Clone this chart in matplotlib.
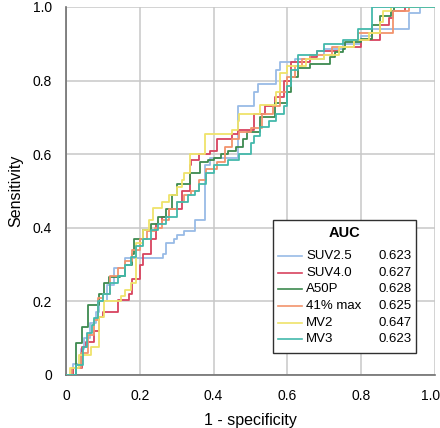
import matplotlib
matplotlib.use("Agg")
import matplotlib.pyplot as plt
from matplotlib.patches import Rectangle
from matplotlib.lines import Line2D
import matplotlib.transforms as mtransforms

plt.rcParams['font.family'] = ['Liberation Sans', 'DejaVu Sans']

names = ["SUV2.5", "SUV4.0", "A50P", "41% max", "MV2", "MV3"]
aucs = ["0.623", "0.627", "0.628", "0.625", "0.647", "0.623"]
colors = ["#98bbe6", "#d8435f", "#3d8a4f", "#f2936c", "#efe36a", "#43b9ab"]

suv25_fpr = [0, 0.02, 0.04, 0.05, 0.065, 0.08, 0.09, 0.11, 0.131, 0.16, 0.262, 0.27, 0.293, 0.30, 0.32, 0.35, 0.377, 0.39, 0.465, 0.51, 0.52, 0.57, 0.58, 0.62, 0.70, 0.75, 0.80, 0.83, 0.93, 0.96, 1.0]
suv25_tpr = [0, 0.03, 0.07, 0.10, 0.14, 0.17, 0.20, 0.245, 0.29, 0.318, 0.33, 0.36, 0.37, 0.38, 0.39, 0.42, 0.57, 0.59, 0.73, 0.77, 0.79, 0.83, 0.85, 0.86, 0.885, 0.90, 0.92, 0.94, 0.985, 1.0, 1.0]

suv40_fpr = [0, 0.02, 0.043, 0.054, 0.075, 0.09, 0.10, 0.14, 0.17, 0.18, 0.20, 0.21, 0.23, 0.245, 0.26, 0.28, 0.315, 0.336, 0.34, 0.36, 0.39, 0.41, 0.45, 0.466, 0.51, 0.54, 0.566, 0.59, 0.61, 0.66, 0.68, 0.74, 0.80, 0.85, 0.875, 0.885, 0.92, 1.0]
suv40_tpr = [0, 0.02, 0.076, 0.09, 0.12, 0.158, 0.17, 0.205, 0.22, 0.26, 0.30, 0.33, 0.37, 0.41, 0.43, 0.45, 0.50, 0.57, 0.585, 0.60, 0.61, 0.64, 0.655, 0.665, 0.71, 0.73, 0.755, 0.80, 0.85, 0.865, 0.88, 0.89, 0.91, 0.95, 0.97, 0.99, 1.0, 1.0]

a50p_fpr = [0, 0.027, 0.043, 0.06, 0.09, 0.104, 0.117, 0.145, 0.16, 0.178, 0.185, 0.21, 0.23, 0.25, 0.27, 0.287, 0.30, 0.336, 0.363, 0.385, 0.40, 0.42, 0.44, 0.46, 0.48, 0.49, 0.525, 0.566, 0.60, 0.61, 0.63, 0.66, 0.715, 0.73, 0.75, 0.756, 0.80, 0.83, 0.85, 0.88, 0.89, 1.0]
a50p_tpr = [0, 0.087, 0.13, 0.19, 0.22, 0.25, 0.265, 0.27, 0.30, 0.33, 0.37, 0.395, 0.41, 0.43, 0.45, 0.49, 0.52, 0.55, 0.58, 0.585, 0.59, 0.60, 0.61, 0.62, 0.64, 0.66, 0.70, 0.74, 0.77, 0.81, 0.835, 0.845, 0.865, 0.877, 0.885, 0.905, 0.913, 0.95, 0.975, 0.99, 1.0, 1.0]

max41_fpr = [0, 0.015, 0.04, 0.06, 0.075, 0.087, 0.10, 0.12, 0.14, 0.16, 0.18, 0.20, 0.22, 0.24, 0.26, 0.28, 0.30, 0.32, 0.34, 0.36, 0.38, 0.41, 0.43, 0.45, 0.47, 0.50, 0.53, 0.56, 0.58, 0.60, 0.62, 0.64, 0.66, 0.72, 0.78, 0.79, 0.885, 0.93, 1.0]
max41_tpr = [0, 0.02, 0.06, 0.11, 0.15, 0.21, 0.22, 0.27, 0.29, 0.31, 0.34, 0.37, 0.39, 0.40, 0.42, 0.45, 0.47, 0.49, 0.50, 0.53, 0.56, 0.58, 0.62, 0.64, 0.66, 0.67, 0.71, 0.73, 0.77, 0.81, 0.84, 0.86, 0.87, 0.89, 0.91, 0.93, 0.99, 1.0, 1.0]

mv2_fpr = [0, 0.01, 0.036, 0.068, 0.09, 0.104, 0.149, 0.16, 0.175, 0.19, 0.21, 0.226, 0.236, 0.26, 0.28, 0.30, 0.315, 0.32, 0.336, 0.377, 0.45, 0.466, 0.47, 0.525, 0.57, 0.58, 0.60, 0.65, 0.70, 0.74, 0.78, 0.82, 0.85, 0.86, 0.88, 1.0]
mv2_tpr = [0, 0.02, 0.054, 0.076, 0.158, 0.20, 0.215, 0.23, 0.25, 0.36, 0.395, 0.42, 0.455, 0.47, 0.49, 0.51, 0.53, 0.55, 0.60, 0.655, 0.665, 0.69, 0.71, 0.735, 0.77, 0.82, 0.84, 0.86, 0.87, 0.89, 0.91, 0.93, 0.96, 0.99, 1.0, 1.0]

mv3_fpr = [0, 0.027, 0.045, 0.057, 0.07, 0.075, 0.087, 0.10, 0.12, 0.14, 0.16, 0.175, 0.19, 0.21, 0.23, 0.25, 0.27, 0.30, 0.33, 0.35, 0.36, 0.38, 0.40, 0.44, 0.47, 0.50, 0.51, 0.525, 0.55, 0.57, 0.59, 0.60, 0.61, 0.63, 0.68, 0.70, 0.75, 0.79, 0.83, 0.83, 1.0]
mv3_tpr = [0, 0.027, 0.075, 0.115, 0.135, 0.155, 0.20, 0.22, 0.25, 0.27, 0.30, 0.32, 0.35, 0.37, 0.395, 0.41, 0.43, 0.47, 0.49, 0.50, 0.52, 0.55, 0.57, 0.585, 0.60, 0.63, 0.65, 0.675, 0.69, 0.71, 0.73, 0.785, 0.83, 0.87, 0.88, 0.90, 0.91, 0.94, 0.97, 1.0, 1.0]

curves = [(suv25_fpr, suv25_tpr), (suv40_fpr, suv40_tpr), (a50p_fpr, a50p_tpr),
          (max41_fpr, max41_tpr), (mv2_fpr, mv2_tpr), (mv3_fpr, mv3_tpr)]

ticks = [0, 0.2, 0.4, 0.6, 0.8, 1.0]
ticklabels = ["0", "0.2", "0.4", "0.6", "0.8", "1.0"]

fig = plt.figure(figsize=(4.4, 4.28), dpi=100)
ax = fig.add_axes([66/440, 53/428, 369/440, 368/428])

for (fx, ty), c in zip(curves, colors):
    ax.plot(fx, ty, drawstyle='steps-post', color=c, lw=1.3, zorder=3)

ax.set_xlim(0, 1)
ax.set_ylim(0, 1)
ax.set_xticks(ticks)
ax.set_yticks(ticks)
ax.set_xticklabels(ticklabels, fontsize=10)
ax.set_yticklabels(ticklabels, fontsize=10)
ax.tick_params(axis='x', length=0, pad=10)
ax.tick_params(axis='y', length=0, pad=10)
ax.grid(True, color="#c8c8c8", lw=1.1, zorder=0)
ax.set_axisbelow(True)
for s in ['top', 'right']:
    ax.spines[s].set_visible(False)
for s in ['left', 'bottom']:
    ax.spines[s].set_color("#707070")
    ax.spines[s].set_linewidth(1.2)
ax.set_xlabel("1 - specificity", fontsize=11.5, labelpad=7)
ax.set_ylabel("Sensitivity", fontsize=11.5, labelpad=7)

# shift last x tick label slightly left as in reference
last = ax.get_xticklabels()[-1]
last.set_transform(last.get_transform() + mtransforms.ScaledTranslation(-4/100, 0, fig.dpi_scale_trans))

# legend box
def ax_x(px):
    return (px - 66) / 369
def ax_y(py):
    return (375 - py) / 368

box = Rectangle((ax_x(273), ax_y(353)), ax_x(416) - ax_x(273), ax_y(220) - ax_y(353),
                transform=ax.transAxes, facecolor='white', edgecolor='#303030', lw=1.0, zorder=5)
ax.add_patch(box)
ax.text(ax_x(345), ax_y(233), "AUC", transform=ax.transAxes, ha='center', va='center',
        fontsize=10.5, fontweight='bold', zorder=6)
ys = [256, 273, 289, 306, 323, 339]
for py, n, v, c in zip(ys, names, aucs, colors):
    ax.add_line(Line2D([ax_x(278), ax_x(302)], [ax_y(py), ax_y(py)], color=c, lw=1.2,
                       transform=ax.transAxes, zorder=6))
    ax.text(ax_x(306), ax_y(py), n, transform=ax.transAxes, ha='left', va='center', fontsize=9.5, zorder=6)
    ax.text(ax_x(412), ax_y(py), v, transform=ax.transAxes, ha='right', va='center', fontsize=9.5, zorder=6)

fig.savefig("out.png", dpi=100)
